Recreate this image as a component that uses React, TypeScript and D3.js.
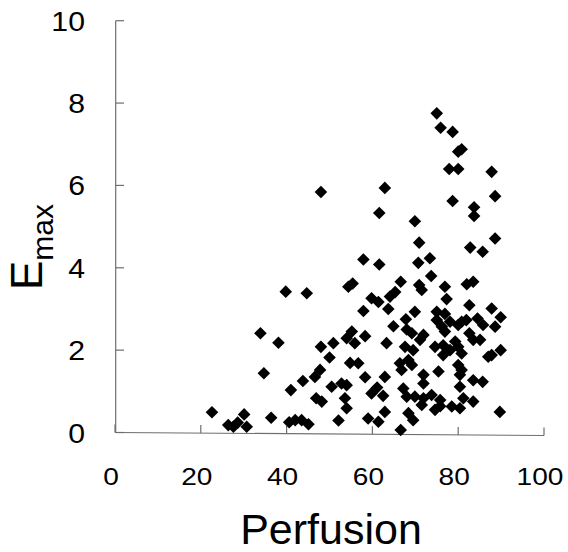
import React from "react";
import * as d3 from "d3";

const perfusion: number[] = [
  22.6, 26.4, 27.6, 28.6, 30.1, 30.7, 36.4, 33.9, 34.7, 38.1,
  39.8, 44.7, 41.0, 43.8, 40.6, 42.0, 43.5, 45.1, 48.0, 48.0,
  50.9, 50.0, 47.8, 46.6, 50.5, 52.8, 54.0, 46.9, 48.2, 53.6,
  54.0, 52.1, 54.4, 55.4, 57.9, 61.6, 62.9, 61.6, 59.8, 61.4,
  57.9, 55.2, 54.0, 55.9, 58.3, 54.8, 56.7, 58.3, 59.8, 61.1,
  59.0, 61.4, 64.1, 65.3, 63.7, 66.6, 70.9, 69.9, 70.7, 73.4,
  73.7, 70.9, 71.5, 76.9, 77.3, 69.9, 75.0, 76.9, 67.8, 64.9,
  68.0, 69.2, 71.9, 75.0, 76.2, 78.1, 80.0, 81.9, 63.3, 67.6,
  69.5, 71.1, 74.6, 76.5, 78.1, 80.0, 66.4, 66.8, 68.4, 69.2,
  75.4, 71.9, 71.9, 80.0, 80.4, 62.9, 62.5, 67.2, 68.0, 69.9,
  71.9, 73.8, 75.8, 80.4, 78.5, 80.4, 62.9, 68.4, 69.5, 71.5,
  74.6, 66.6, 75.0, 75.9, 78.7, 80.0, 80.8, 77.9, 80.0, 87.8,
  88.6, 78.7, 83.7, 83.7, 88.6, 82.8, 85.7, 82.0, 83.5, 82.6,
  87.8, 89.9, 80.8, 84.5, 85.8, 88.6, 82.6, 83.5, 85.1, 80.8,
  87.0, 87.8, 89.9, 80.8, 83.5, 85.7, 81.2, 83.5, 89.7, 79.3,
  76.5, 76.9, 75.8,
];

const emax: number[] = [
  0.49, 0.18, 0.14, 0.24, 0.44, 0.14, 0.36, 2.41, 1.44, 2.18,
  3.42, 3.38, 1.03, 1.25, 0.25, 0.30, 0.30, 0.20, 5.84, 2.08,
  2.17, 1.82, 1.52, 1.35, 1.11, 1.19, 1.15, 0.83, 0.75, 0.83,
  0.59, 0.29, 3.54, 3.62, 4.20, 4.08, 5.94, 5.33, 3.26, 3.17,
  2.95, 2.45, 2.29, 2.17, 2.34, 1.69, 1.68, 1.34, 0.95, 1.09,
  0.34, 0.26, 3.30, 3.41, 3.00, 3.66, 4.61, 5.13, 4.12, 4.23,
  3.80, 3.58, 3.46, 3.54, 3.24, 2.93, 2.93, 2.88, 2.75, 2.58,
  2.50, 2.41, 2.37, 2.73, 2.57, 2.69, 2.61, 2.73, 2.17, 2.08,
  2.00, 2.25, 2.08, 2.12, 2.00, 2.08, 1.68, 1.52, 1.76, 1.64,
  1.48, 1.40, 1.19, 1.64, 1.40, 1.35, 0.89, 1.07, 0.87, 0.87,
  0.83, 0.91, 0.79, 1.11, 0.63, 0.59, 0.50, 0.47, 0.30, 0.67,
  0.55, 0.06, 7.75, 7.40, 7.30, 6.82, 6.88, 6.40, 6.40, 6.33,
  5.74, 5.62, 5.47, 5.26, 4.71, 4.49, 4.39, 3.60, 3.66, 3.09,
  3.01, 2.80, 2.69, 2.77, 2.61, 2.57, 2.41, 2.25, 2.25, 1.92,
  1.84, 1.88, 2.00, 1.52, 1.27, 1.23, 0.83, 0.75, 0.50, 2.21,
  1.88, 2.45, 0.64,
];

const xTicks: number[] = [0, 20, 40, 60, 80, 100];
const yTicks: number[] = [0, 2, 4, 6, 8, 10];
const xTitle = "Perfusion";
const yTitleMain = "E";
const yTitleSub = "max";

export default function App() {
  const W = 568;
  const H = 552;
  const x = d3.scaleLinear().domain([0, 100]).range([115, 544]);
  const y = d3.scaleLinear().domain([0, 10]).range([432.5, 20.7]);
  const r = 6.3;
  const diamond = `M0,${-r}L${r},0L0,${r}L${-r},0Z`;
  const axisColor = "#6e6e6e";
  const font = "'Liberation Sans', Arial, sans-serif";

  return (
    <svg
      width={W}
      height={H}
      style={{ position: "absolute", left: 0, top: 0, background: "#fff" }}
      fontFamily={font}
    >
      <rect x={0} y={0} width={W} height={H} fill="#fff" />
      {/* y axis */}
      <line x1={x(0) + 0.7} x2={x(0) + 0.7} y1={y(10)} y2={y(0)} stroke={axisColor} strokeWidth={1.2} />
      {yTicks.map((t) => (
        <line key={"yt" + t} x1={x(0) + 0.7} x2={x(0) + 9} y1={y(t)} y2={y(t)} stroke={axisColor} strokeWidth={1.2} />
      ))}
      {/* x axis */}
      <line x1={x(0)} x2={x(100)} y1={y(0)} y2={y(0) + 3} stroke={axisColor} strokeWidth={1.2} />
      {xTicks.map((t) => {
        const yy = y(0) + (3 * t) / 100;
        return (
          <line key={"xt" + t} x1={x(t)} x2={x(t)} y1={yy} y2={yy - 8} stroke={axisColor} strokeWidth={1.2} />
        );
      })}
      {/* tick labels */}
      {xTicks.map((t) => (
        <text
          key={"xl" + t}
          transform={`translate(${x(t) - 4},485) scale(1.22,1)`}
          textAnchor="middle"
          fontSize={23}
          fill="#000"
        >
          {t}
        </text>
      ))}
      {yTicks.map((t) => (
        <text
          key={"yl" + t}
          transform={`translate(85,${y(t) + 10}) scale(1.12,1)`}
          textAnchor="end"
          fontSize={27}
          fill="#000"
        >
          {t}
        </text>
      ))}
      {/* titles */}
      <text x={331} y={544} textAnchor="middle" fontSize={43} fill="#000">
        {xTitle}
      </text>
      <text transform="translate(42,290) rotate(-90)" fontSize={44} fill="#000">
        {yTitleMain}
        <tspan fontSize={30} dy={11}>
          {yTitleSub}
        </tspan>
      </text>
      {/* points */}
      {perfusion.map((p, i) => (
        <path key={"p" + i} d={diamond} transform={`translate(${x(p)},${y(emax[i])})`} fill="#000" />
      ))}
    </svg>
  );
}
